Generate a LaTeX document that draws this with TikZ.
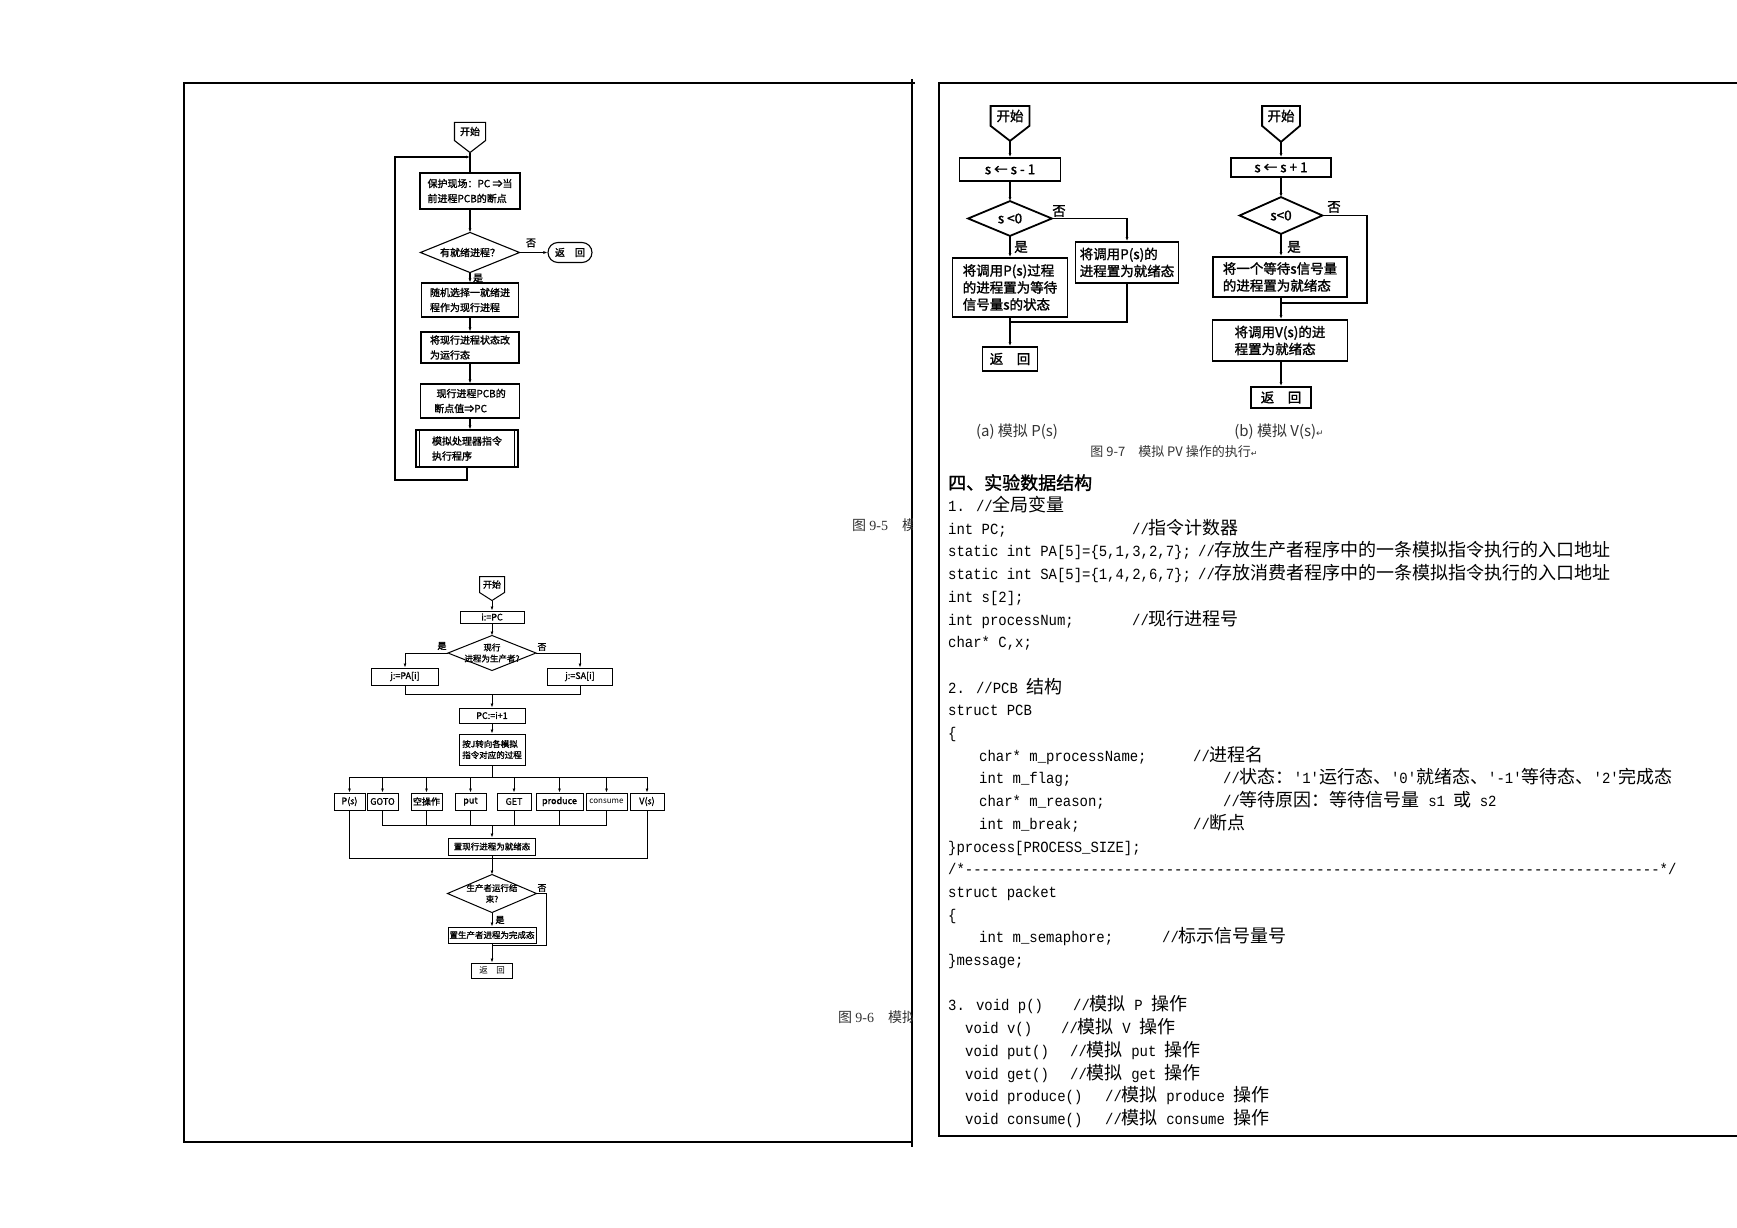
\documentclass[tikz,border=0pt]{standalone}
\usepackage{fontspec}
\usetikzlibrary{shapes.misc,arrows.meta,calc}
\newfontfamily\zhfont{Noto Sans CJK SC}
\newfontfamily\zhbold{Noto Sans CJK SC}[FakeBold=1.5]
\newfontfamily\codefont{Liberation Mono}[FakeStretch=0.9]
\newfontfamily\serifl{Liberation Serif}
\newfontfamily\symfont{DejaVu Sans}
\newcommand\zhtxt[1]{{\zhfont\fontsize{18}{22}\selectfont #1}}
\newcommand\dmdpath[2]{\draw[line width=#2] (#1.north) -- (#1.east) -- (#1.south) -- (#1.west) -- cycle;}
\begin{document}
\begin{tikzpicture}[x=1pt,y=-1pt,
  bx/.style={draw, inner sep=1pt, align=left, anchor=center},
  dmd/.style={draw=none, inner sep=0pt, align=center},
  ar/.style={-{Latex[length=4pt,width=3pt]}},
  lbl/.style={inner sep=0pt},
  f5/.style={font=\zhbold\fontsize{10}{15}\selectfont, line width=1.1pt},
  f6/.style={font=\zhbold\fontsize{9}{11}\selectfont, line width=1pt},
  f7/.style={font=\zhbold\fontsize{13.5}{17}\selectfont, line width=1.8pt},
  codel/.style={anchor=base west, inner sep=0pt, font=\codefont\fontsize{15.5}{22}\selectfont},
  figcap/.style={anchor=base west, inner sep=0pt, font=\zhfont\fontsize{14}{16}\selectfont, text=black!80}]
\useasboundingbox (0,0) rectangle (1737,1228);

% ---------------- page frames ----------------
\draw[line width=1.3pt] (184,83) rectangle (912,1142);
\draw[line width=1.3pt] (912,79) -- (912,1147);
\draw[line width=1.3pt] (912,83) -- (915,83);
\draw[line width=1.3pt] (1737,83) -- (939,83) -- (939,1136) -- (1737,1136);

% ---------------- Fig 9-5 ----------------
\node[bx,f5,draw=none,align=center,minimum width=30pt,minimum height=17pt] (st5) at (470,131.5) {开始};
\draw[line width=1.1pt] (st5.north west) -- (st5.north east) -- (st5.south east) -- ($(st5.south)+(0,12)$) coordinate (st5t) -- (st5.south west) -- cycle;
\node[bx,f5,minimum width=100pt,minimum height=36pt] (b51) at (470,191) {保护现场：PC ⇒当\\前进程PCB的断点};
\node[dmd,f5,minimum width=98pt,minimum height=39pt] (d51) at (470,252.5) {有就绪进程？};
\dmdpath{d51}{1.1pt}
\node[draw,rounded rectangle,f5,minimum width=46pt,minimum height=20pt,inner sep=1pt] (r51) at (570,252.5) {返\quad 回};
\node[bx,f5,minimum width=97pt,minimum height=34pt] (b52) at (470,300) {随机选择一就绪进\\程作为现行进程};
\node[bx,f5,minimum width=98pt,minimum height=31pt] (b53) at (470,347.5) {将现行进程状态改\\为运行态};
\node[bx,f5,minimum width=99pt,minimum height=34pt] (b54) at (470,401) {\ 现行进程PCB的\\断点值⇒PC};
\node[bx,f5,minimum width=102pt,minimum height=37pt] (b55) at (467,448.5) {模拟处理器指令\\执行程序};
\draw[line width=1.1pt] ($(b55.north west)+(4,0)$) -- ($(b55.south west)+(4,0)$);
\draw[line width=1.1pt] ($(b55.north east)+(-4,0)$) -- ($(b55.south east)+(-4,0)$);
\node[lbl,f5] (n51) at (531,243) {否};
\node[lbl,f5] (y51) at (478,278) {是};
\coordinate (lp1) at (395,480);
\coordinate (lj1) at (470,157);
\draw[line width=1.1pt] (st5t) -- (b51.north);
\draw[line width=1.1pt,ar] (b51.south) -- (d51.north);
\draw[line width=1.1pt,ar] (d51.east) -- (r51.west);
\draw[line width=1.1pt,ar] (d51.south) -- (b52.north);
\draw[line width=1.1pt,ar] (b52.south) -- (b53.north);
\draw[line width=1.1pt,ar] (b53.south) -- (b54.north);
\draw[line width=1.1pt,ar] (b54.south) -- (b54.south |- b55.north);
\draw[line width=1.1pt,ar] (b55.south) |- (lp1) |- (lj1);

\begin{scope}
\clip (184,480) rectangle (912,1100);
\node[figcap] (cap95) at (852,530) {图 {\serifl 9-5}\quad 模拟};
\node[figcap] (cap96) at (838,1022) {图 {\serifl 9-6}\quad 模拟};
\end{scope}

% ---------------- Fig 9-6 ----------------
\node[bx,f6,draw=none,align=center,minimum width=24pt,minimum height=15pt] (st6) at (492,584.5) {开始};
\draw[line width=1pt] (st6.north west) -- (st6.north east) -- (st6.south east) -- ($(st6.south)+(0,8)$) coordinate (st6t) -- (st6.south west) -- cycle;
\node[bx,f6,align=center,minimum width=64pt,minimum height=12pt] (ipc) at (492,617) {i:=PC};
\node[dmd,f6,minimum width=87pt,minimum height=34pt,font=\zhbold\fontsize{8.5}{11}\selectfont] (d61) at (492,653) {现行\\进程为生产者?};
\dmdpath{d61}{1pt}
\node[lbl,f6] (y61) at (442,646) {是};
\node[lbl,f6] (n61) at (542,647) {否};
\node[bx,f6,align=center,minimum width=67pt,minimum height=17pt] (pa) at (405,676.5) {j:=PA[i]};
\node[bx,f6,align=center,minimum width=65pt,minimum height=17pt] (sa) at (580,676.5) {j:=SA[i]};
\node[bx,f6,align=center,minimum width=66pt,minimum height=15pt] (pc6) at (492,715.5) {PC:=i+1};
\node[bx,f6,minimum width=66pt,minimum height=31pt,font=\zhbold\fontsize{8.5}{11}\selectfont] (jmp) at (492,749.5) {按J转向各模拟\\指令对应的过程};
\node[bx,f6,align=center,minimum width=31pt,minimum height=17pt] (ps) at (349.5,801.5) {P(s)};
\node[bx,f6,align=center,minimum width=31pt,minimum height=17pt] (gt) at (382.5,801.5) {GOTO};
\node[bx,f6,align=center,minimum width=31pt,minimum height=17pt] (nop) at (426.5,801.5) {空操作};
\node[bx,f6,align=center,minimum width=31pt,minimum height=17pt] (put) at (470.5,801.5) {put};
\node[bx,f6,align=center,minimum width=34pt,minimum height=17pt] (gett) at (514,801.5) {GET};
\node[bx,f6,align=center,minimum width=47pt,minimum height=17pt] (prod) at (559.5,801.5) {produce};
\node[bx,f6,align=center,minimum width=41pt,minimum height=17pt,font=\zhfont\fontsize{8}{9}\selectfont] (cons) at (606.5,801.5) {consume};
\node[bx,f6,align=center,minimum width=34pt,minimum height=17pt] (vs) at (647,801.5) {V(s)};
\node[bx,f6,align=center,minimum width=87pt,minimum height=17pt,font=\zhbold\fontsize{8.5}{11}\selectfont] (rdy) at (492,846.5) {置现行进程为就绪态};
\node[dmd,f6,minimum width=88pt,minimum height=37pt,font=\zhbold\fontsize{8.5}{11}\selectfont] (d62) at (492,893.5) {生产者运行结\\束?};
\dmdpath{d62}{1pt}
\node[lbl,f6] (n62) at (542,888) {否};
\node[lbl,f6] (y62) at (500,920) {是};
\node[bx,f6,align=center,minimum width=88pt,minimum height=16pt,font=\zhbold\fontsize{8.5}{11}\selectfont] (done) at (492,935) {置生产者进程为完成态};
\node[bx,f6,align=center,minimum width=41pt,minimum height=15pt,font=\zhfont\fontsize{8.5}{10}\selectfont] (r6) at (492,970.5) {返\quad 回};
\coordinate (m61) at (492,694);
\coordinate (bus6) at (492,777);
\coordinate (m62) at (492,825);
\coordinate (m63) at (492,858);
\coordinate (nb6) at (546,945);
\coordinate (m64) at (492,945);
\draw[line width=1pt,ar] (st6t) -- (ipc.north);
\draw[line width=1pt,ar] (ipc.south) -- (d61.north);
\draw[line width=1pt,ar] (d61.west) -| (pa.north);
\draw[line width=1pt,ar] (d61.east) -| (sa.north);
\draw[line width=1pt] (pa.south) |- (m61);
\draw[line width=1pt] (sa.south) |- (m61);
\draw[line width=1pt,ar] (m61) -- (pc6.north);
\draw[line width=1pt,ar] (pc6.south) -- (jmp.north);
\draw[line width=1pt] (jmp.south) -- (bus6);
\foreach \b in {ps,gt,nop,put,gett,prod,cons,vs} {\draw[line width=1pt,ar] (bus6) -| (\b.north);}
\foreach \b in {gt,nop,put,gett,prod,cons} {\draw[line width=1pt] (\b.south) |- (m62);}
\draw[line width=1pt,ar] (m62) -- (rdy.north);
\draw[line width=1pt] (ps.south) |- (m63);
\draw[line width=1pt] (vs.south) |- (m63);
\draw[line width=1pt,ar] (rdy.south) -- (d62.north);
\draw[line width=1pt,ar] (d62.south) -- (done.north);
\draw[line width=1pt] (d62.east) -| (nb6) -- (m64);
\draw[line width=1pt,ar] (done.south) -- (r6.north);

% ---------------- Fig 9-7 (a) ----------------
\node[bx,f7,draw=none,align=center,minimum width=37pt,minimum height=18pt] (st7a) at (1010,116) {开始};
\draw[line width=1.8pt] (st7a.north west) -- (st7a.north east) -- (st7a.south east) -- ($(st7a.south)+(0,15)$) coordinate (st7at) -- (st7a.south west) -- cycle;
\node[bx,f7,align=center,minimum width=101pt,minimum height=23pt] (sa1) at (1010,169.5) {s ← s - 1};
\node[dmd,f7,minimum width=82pt,minimum height=33pt] (da) at (1010,218.5) {s <0};
\dmdpath{da}{1.8pt}
\node[lbl,f7] (na) at (1059,211) {否};
\node[lbl,f7] (ya) at (1021,247) {是};
\node[bx,f7,minimum width=103pt,minimum height=41pt] (pr) at (1127,262.5) {将调用P(s)的\\进程置为就绪态};
\node[bx,f7,minimum width=115pt,minimum height=59pt] (pw) at (1010,287.5) {将调用P(s)过程\\的进程置为等待\\信号量s的状态};
\node[bx,f7,align=center,minimum width=55pt,minimum height=24pt] (r7a) at (1010,359) {返\quad 回};
\coordinate (ma) at (1010,322);
\draw[line width=1.5pt,ar] (st7at) -- (sa1.north);
\draw[line width=1.5pt,ar] (sa1.south) -- (da.north);
\draw[line width=1.5pt,ar] (da.east) -| (pr.north);
\draw[line width=1.5pt,ar] (da.south) -- (pw.north);
\draw[line width=1.5pt] (pr.south) |- (ma);
\draw[line width=1.5pt,ar] (pw.south) -- (r7a.north);
\node[anchor=center,inner sep=0pt,font=\zhfont\fontsize{15}{17}\selectfont,text=black!80] (capa) at (1017,432) {(a)\ 模拟 P(s)};

% ---------------- Fig 9-7 (b) ----------------
\node[bx,f7,draw=none,align=center,minimum width=36pt,minimum height=18pt] (st7b) at (1281,116) {开始};
\draw[line width=1.8pt] (st7b.north west) -- (st7b.north east) -- (st7b.south east) -- ($(st7b.south)+(0,16)$) coordinate (st7bt) -- (st7b.south west) -- cycle;
\node[bx,f7,align=center,minimum width=100pt,minimum height=19pt] (sb1) at (1281,167.5) {s ← s + 1};
\node[dmd,f7,minimum width=81pt,minimum height=35pt] (db) at (1281,215.5) {s<0};
\dmdpath{db}{1.8pt}
\node[lbl,f7] (nbl) at (1334,207) {否};
\node[lbl,f7] (ybl) at (1294,247) {是};
\node[bx,f7,minimum width=134pt,minimum height=40pt] (sbw) at (1280,277) {将一个等待s信号量\\的进程置为就绪态};
\node[bx,f7,minimum width=135pt,minimum height=41pt] (sbv) at (1280,340.5) {将调用V(s)的进\\程置为就绪态};
\node[bx,f7,align=center,minimum width=60pt,minimum height=21pt] (r7b) at (1281,397.5) {返\quad 回};
\coordinate (nb7) at (1367,303);
\coordinate (mb7) at (1281,303);
\draw[line width=1.5pt,ar] (st7bt) -- (sb1.north);
\draw[line width=1.5pt,ar] (sb1.south) -- (db.north);
\draw[line width=1.5pt,ar] (db.south) -- (db.south |- sbw.north);
\draw[line width=1.5pt] (db.east) -| (nb7) -- (mb7);
\draw[line width=1.5pt,ar] (sbw.south -| r7b.north) -- (sbv.north -| r7b.north);
\draw[line width=1.5pt,ar] (sbv.south -| r7b.north) -- (r7b.north);
\node[anchor=center,inner sep=0pt,font=\zhfont\fontsize{15}{17}\selectfont,text=black!80] (capb) at (1279,432) {(b)\ 模拟 V(s){\symfont\fontsize{9}{10}\selectfont ↵}};
\node[anchor=center,inner sep=0pt,font=\zhfont\fontsize{13}{15}\selectfont,text=black!80] (cap97) at (1174,452) {图 9-7\quad 模拟 PV 操作的执行{\symfont\fontsize{8}{10}\selectfont ↵}};

% ---------------- Right text ----------------
\node[anchor=base west,inner sep=0pt,font=\zhbold\fontsize{18}{22}\selectfont] (t0) at (948,489.5) {四、实验数据结构};
\node[codel] (t1) at (948,511.5) {1. //\zhtxt{全局变量}};
\node[codel] (t2) at (948,534.2) {int PC;};
\node[codel] (t2c) at (1132,534.2) {//\zhtxt{指令计数器}};
\node[codel] (t3) at (948,556.9) {static int PA[5]=\{5,1,3,2,7\};};
\node[codel] (t3c) at (1198,556.9) {//\zhtxt{存放生产者程序中的一条模拟指令执行的入口地址}};
\node[codel] (t4) at (948,579.6) {static int SA[5]=\{1,4,2,6,7\};};
\node[codel] (t4c) at (1198,579.6) {//\zhtxt{存放消费者程序中的一条模拟指令执行的入口地址}};
\node[codel] (t5) at (948,602.3) {int s[2];};
\node[codel] (t6) at (948,625) {int processNum;};
\node[codel] (t6c) at (1132,625) {//\zhtxt{现行进程号}};
\node[codel] (t7) at (948,647.7) {char* C,x;};
\node[codel] (t8) at (948,693.1) {2. //PCB \zhtxt{结构}};
\node[codel] (t9) at (948,715.8) {struct PCB};
\node[codel] (t10) at (948,738.5) {\{};
\node[codel] (t11) at (979,761.2) {char* m\_processName;};
\node[codel] (t11c) at (1193,761.2) {//\zhtxt{进程名}};
\node[codel] (t12) at (979,783.9) {int m\_flag;};
\node[codel] (t12c) at (1223,783.9) {//\zhtxt{状态：}'1'\zhtxt{运行态、}'0'\zhtxt{就绪态、}'-1'\zhtxt{等待态、}'2'\zhtxt{完成态}};
\node[codel] (t13) at (979,806.6) {char* m\_reason;};
\node[codel] (t13c) at (1223,806.6) {//\zhtxt{等待原因：等待信号量} s1 \zhtxt{或} s2};
\node[codel] (t14) at (979,829.3) {int m\_break;};
\node[codel] (t14c) at (1193,829.3) {//\zhtxt{断点}};
\node[codel] (t15) at (948,852) {\}process[PROCESS\_SIZE];};
\node[codel] (t16) at (948,874.7) {/*-----------------------------------------------------------------------------------*/};
\node[codel] (t17) at (948,897.4) {struct packet};
\node[codel] (t18) at (948,920.1) {\{};
\node[codel] (t19) at (979,942.8) {int m\_semaphore;};
\node[codel] (t19c) at (1162,942.8) {//\zhtxt{标示信号量号}};
\node[codel] (t20) at (948,965.5) {\}message;};
\node[codel] (t22) at (948,1010.9) {3. void p()};
\node[codel] (t22c) at (1073,1010.9) {//\zhtxt{模拟} P \zhtxt{操作}};
\node[codel] (t23) at (965,1033.6) {void v()};
\node[codel] (t23c) at (1061,1033.6) {//\zhtxt{模拟} V \zhtxt{操作}};
\node[codel] (t24) at (965,1056.3) {void put()};
\node[codel] (t24c) at (1070,1056.3) {//\zhtxt{模拟} put \zhtxt{操作}};
\node[codel] (t25) at (965,1079) {void get()};
\node[codel] (t25c) at (1070,1079) {//\zhtxt{模拟} get \zhtxt{操作}};
\node[codel] (t26) at (965,1101.7) {void produce()};
\node[codel] (t26c) at (1105,1101.7) {//\zhtxt{模拟} produce \zhtxt{操作}};
\node[codel] (t27) at (965,1124.4) {void consume()};
\node[codel] (t27c) at (1105,1124.4) {//\zhtxt{模拟} consume \zhtxt{操作}};
\end{tikzpicture}
\end{document}
